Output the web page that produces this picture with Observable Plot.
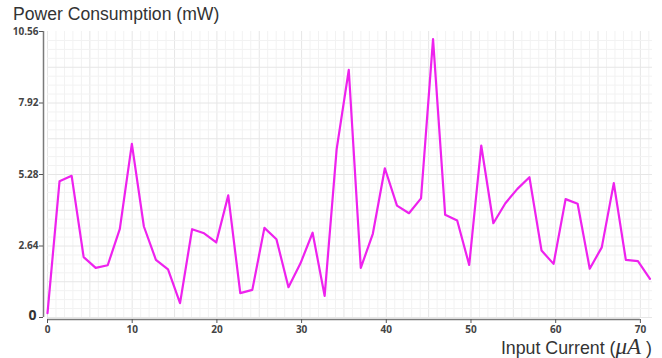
<!DOCTYPE html>
<html>
<head>
<meta charset="utf-8">
<script src="https://cdn.jsdelivr.net/npm/d3@7"></script>
<script src="https://cdn.jsdelivr.net/npm/@observablehq/plot@0.6"></script>
<style>
  html, body { margin: 0; padding: 0; background: #fff; }
  #wrap { position: relative; width: 662px; height: 358px; overflow: hidden; }
  #title { position: absolute; left: 13px; top: 4px; font: 17.6px "Liberation Sans", Arial, sans-serif; line-height: 20px; color: #333; white-space: nowrap; }
  #xlabel { position: absolute; right: 10px; top: 334px; font: 17.8px "Liberation Sans", Arial, sans-serif; color: #333; white-space: nowrap; }
  #xlabel i { font-family: "Liberation Serif", serif; font-size: 23px; }
</style>
</head>
<body>
<div id="wrap">
  <div id="chart"></div>
  <div id="title">Power Consumption (mW)</div>
  <div id="xlabel">Input Current (<i>μA</i> )</div>
</div>
<script>
const inputCurrent = [0, 1.42, 2.85, 4.27, 5.69, 7.11, 8.54, 9.96, 11.38, 12.80, 14.23, 15.65, 17.07, 18.49, 19.92, 21.34, 22.76, 24.18, 25.61, 27.03, 28.45, 29.87, 31.30, 32.72, 34.14, 35.57, 36.99, 38.41, 39.83, 41.26, 42.68, 44.10, 45.52, 46.95, 48.37, 49.79, 51.21, 52.64, 54.06, 55.48, 56.90, 58.33, 59.75, 61.17, 62.59, 64.02, 65.44, 66.86, 68.28, 69.71, 71.13];
const power = [0.16, 5.03, 5.23, 2.23, 1.83, 1.93, 3.27, 6.41, 3.36, 2.13, 1.78, 0.53, 3.26, 3.11, 2.77, 4.51, 0.90, 1.02, 3.31, 2.89, 1.12, 2.00, 3.13, 0.80, 6.22, 9.14, 1.83, 3.09, 5.51, 4.13, 3.85, 4.40, 10.28, 3.79, 3.58, 1.94, 6.35, 3.48, 4.22, 4.75, 5.18, 2.47, 1.98, 4.37, 4.20, 1.80, 2.59, 4.96, 2.13, 2.08, 1.43];
const yTicks = [0, 2.64, 5.28, 7.92, 10.56];
const xTicks = [0, 10, 20, 30, 40, 50, 60, 70];
const xMinorGrid = d3.range(0, 72, 1);
const yMinorGrid = d3.range(0, 32).map(i => i * 0.33);

const data = inputCurrent.map((x, i) => ({x, y: power[i]}));
const xMax = 71.43, yMax = 10.56;

const chart = Plot.plot({
  width: 662,
  height: 358,
  marginLeft: 47,
  marginRight: 10,
  marginTop: 31,
  marginBottom: 41,
  x: {domain: [0, xMax], axis: null},
  y: {domain: [0, yMax], axis: null},
  style: {background: "#fff"},
  marks: [
    Plot.ruleX(xMinorGrid, {stroke: d => d % 5 === 0 ? "#e6e6e6" : "#f2f2f2", strokeWidth: 1, y1: 0, y2: yMax}),
    Plot.ruleY(yMinorGrid, {stroke: (d, i) => i % 4 === 0 ? "#e6e6e6" : "#f2f2f2", strokeWidth: 1, x1: 0, x2: xMax}),
    Plot.ruleX([0], {y1: 0, y2: yMax, dx: -4, stroke: "#7a7a7a", strokeWidth: 1.5}),
    Plot.ruleY([0], {x1: 0, x2: 70, dy: 2, stroke: "#7a7a7a", strokeWidth: 1.5}),
    Plot.axisY(yTicks, {anchor: "left", label: null, tickSize: 4, dx: -4, stroke: "#555", tickFormat: d => d === 0 ? "" : d.toFixed(2), fontSize: 10, fontWeight: "bold", fill: "#444", fontFamily: "Open Sans", tickPadding: 1}),
    Plot.text([0], {x: 0, y: d => d, text: () => "0", dx: -11, dy: -2, textAnchor: "end", fontSize: 14, fontWeight: "bold", fill: "#333", fontFamily: "Open Sans"}),
    Plot.axisX(xTicks, {anchor: "bottom", label: null, tickSize: 4, dy: 2, stroke: "#555", fontSize: 10, fontWeight: "bold", fill: "#444", fontFamily: "Open Sans", tickPadding: 2}),
    Plot.line(data, {x: "x", y: "y", stroke: "#ee22ee", strokeWidth: 2.2})
  ]
});
document.getElementById("chart").appendChild(chart);
</script>
</body>
</html>
